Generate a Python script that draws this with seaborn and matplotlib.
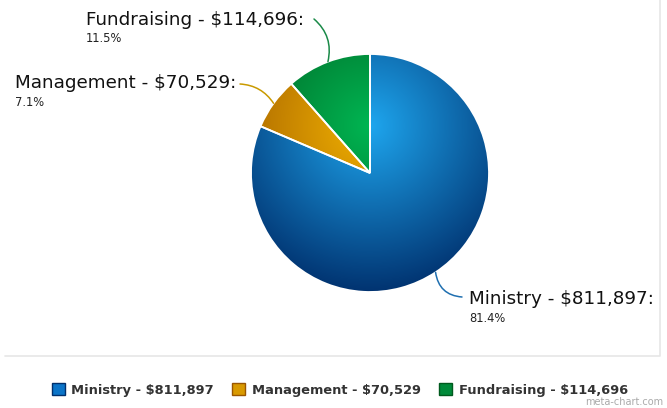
import numpy as np
import seaborn as sns
import matplotlib.pyplot as plt
from matplotlib.colors import LinearSegmentedColormap
from matplotlib.patches import Patch

# data
labels = ['Ministry', 'Management', 'Fundraising']
amounts = [811897, 70529, 114696]
light_colors = ['#1ea6ee', '#f2b200', '#00b552']
dark_colors = ['#002f6c', '#9a5600', '#005a1e']
line_colors = ['#1f6fb0', '#c99a00', '#1a8a48']

sns.set_style('white')
plt.rcParams['font.family'] = ['DejaVu Sans']

W, H = 667, 408
fig = plt.figure(figsize=(W / 100, H / 100), dpi=100)
ax = fig.add_axes([0, 0, 1, 1])

# pie geometry in pixel units (y measured from bottom)
cx, cy, R = 370, H - 173, 119

wedges, _ = ax.pie(amounts, center=(cx, cy), radius=R, startangle=90,
                   counterclock=False, frame=True,
                   wedgeprops=dict(facecolor='none', edgecolor='white', linewidth=1.3, zorder=3))

# radial gradient fill for each slice
gx, gy = cx, cy + 0.4 * R
yy, xx = np.mgrid[cy - R - 2:cy + R + 2:400j, cx - R - 2:cx + R + 2:400j]
dist = np.sqrt((xx - gx) ** 2 + (yy - gy) ** 2) / (1.45 * R)
dist = np.clip(dist, 0, 1)
for w, lc, dc in zip(wedges, light_colors, dark_colors):
    cmap = LinearSegmentedColormap.from_list('g', [lc, dc])
    im = ax.imshow(dist, cmap=cmap, vmin=0, vmax=1, origin='lower',
                   extent=(cx - R - 2, cx + R + 2, cy - R - 2, cy + R + 2), zorder=2)
    im.set_clip_path(w)

ax.set_xlim(0, W)
ax.set_ylim(0, H)
ax.set_aspect('equal')
ax.axis('off')

# labels with connectors
total = sum(amounts)
label_pos = {'Ministry': (469, 299), 'Management': (15, 83), 'Fundraising': (86, 20)}
label_end = {'Ministry': (462, 297), 'Management': (240, 84), 'Fundraising': (314, 19)}
rads = {'Ministry': -0.4, 'Management': -0.25, 'Fundraising': -0.3}
for w, name, amt, col in zip(wedges, labels, amounts, line_colors):
    mid = np.deg2rad((w.theta1 + w.theta2) / 2)
    px, py = cx + R * np.cos(mid), cy + R * np.sin(mid)
    tx, ty = label_pos[name]
    ax.text(tx, H - ty, f'{name} - ${amt:,}:', fontsize=13.2, color='#111111',
            ha='left', va='center')
    ax.text(tx, H - ty - 19, f'{amt / total * 100:.1f}%', fontsize=8.3, color='#222222',
            ha='left', va='center')
    ex, ey = label_end[name]
    ax.annotate('', xy=(px, py), xytext=(ex, H - ey),
                arrowprops=dict(arrowstyle='-', color=col, lw=1.1,
                                connectionstyle=f'arc3,rad={rads[name]}',
                                shrinkA=0, shrinkB=0))

# plot-area border
ax.plot([5, 660, 660], [H - 356, H - 356, H], color='#e6e6e6', lw=1.2)

# legend
handles = [Patch(facecolor=c, edgecolor=d, label=f'{n} - ${a:,}')
           for n, a, c, d in zip(labels, amounts, ['#0b74c8', '#d99a00', '#008a3a'], dark_colors)]
leg = ax.legend(handles=handles, loc='center', bbox_to_anchor=(340 / W, 1 - 390 / H),
                ncol=3, frameon=False, handlelength=1.0, handleheight=1.0,
                handletextpad=0.5, columnspacing=1.4,
                prop=dict(family='DejaVu Sans', weight='bold', size=9.4))
for t in leg.get_texts():
    t.set_color('#333333')

ax.text(663, H - 407, 'meta-chart.com', fontsize=7, color='#aaaaaa', ha='right', va='bottom')

fig.savefig('out.png', dpi=100)
